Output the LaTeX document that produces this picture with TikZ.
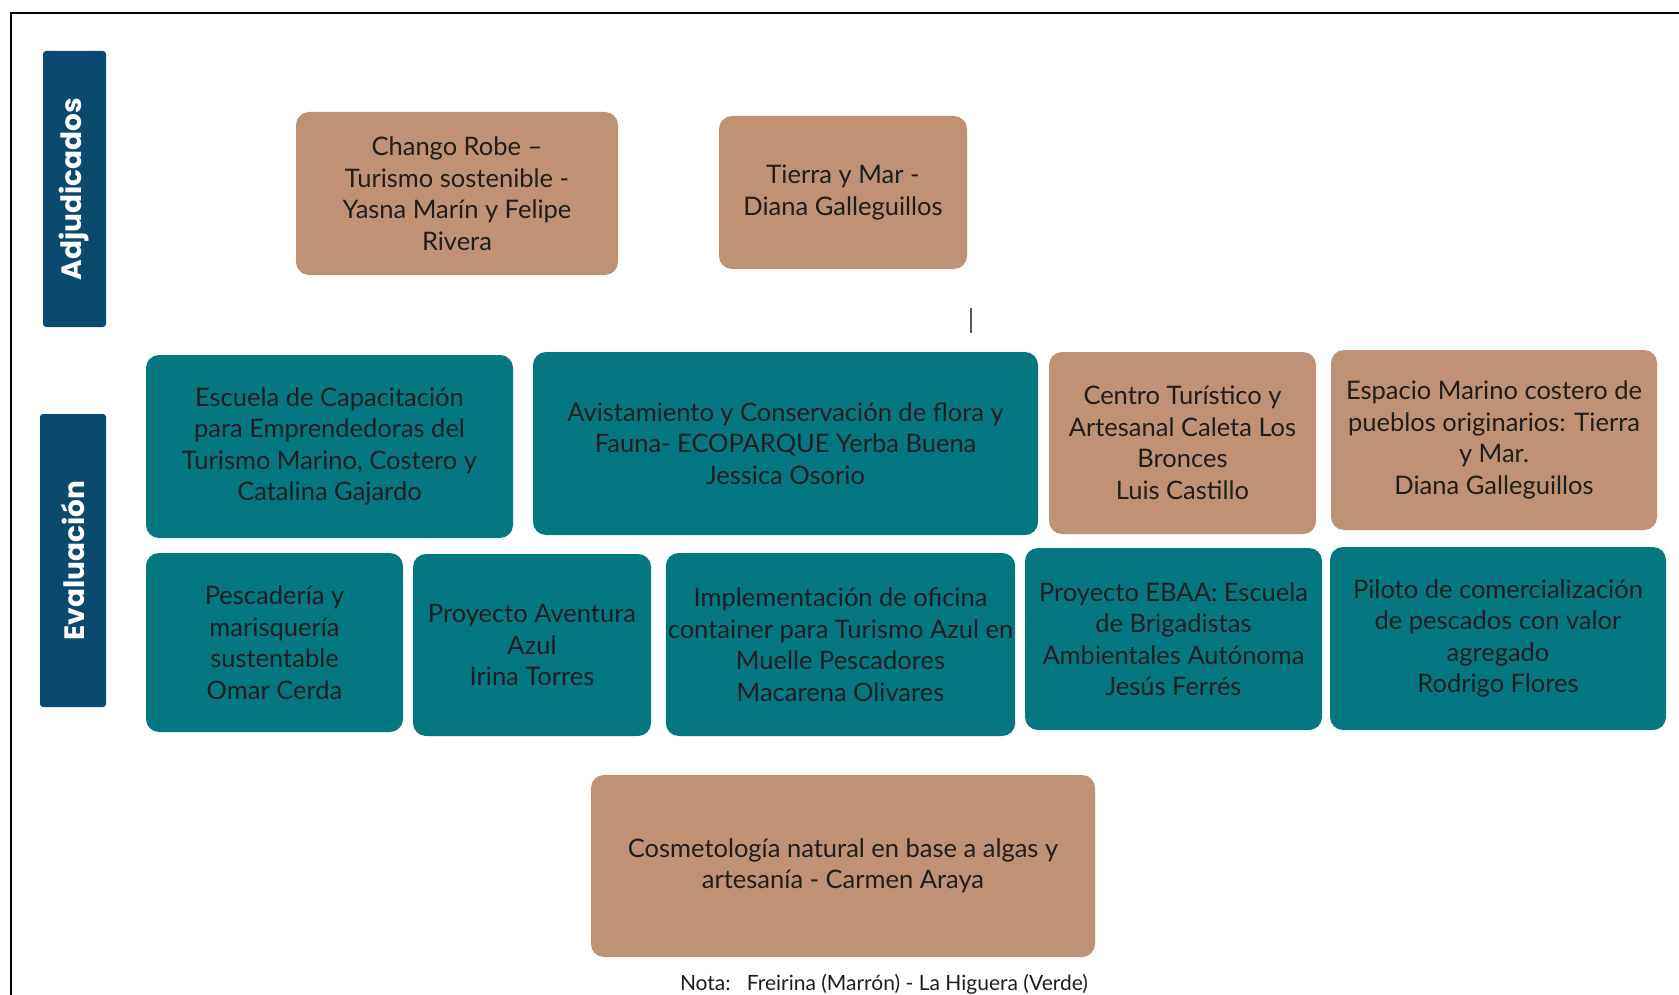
\documentclass[tikz,border=0pt]{standalone}
\usepackage{fontspec}
\setmainfont{Lato}
\newfontfamily\labelfont{Poppins}
\definecolor{brownbox}{HTML}{C09275}
\definecolor{tealbox}{HTML}{047780}
\definecolor{navybox}{HTML}{0A4A6E}
\definecolor{textdark}{HTML}{1E1E1E}
\begin{document}
\begin{tikzpicture}[x=1pt,y=-1pt,
  box/.style={rectangle,rounded corners=13pt,inner sep=2pt,align=center,
    text=textdark,font=\fontsize{25.5}{31.5}\selectfont},
  brownnode/.style={box,fill=brownbox},
  tealnode/.style={box,fill=tealbox},
  stagebox/.style={rectangle,rounded corners=3pt,fill=navybox,text=white,
    font=\labelfont\fontsize{28}{30}\selectfont\bfseries,rotate=90},
  frameline/.style={line width=2pt,black}]
\useasboundingbox (0,0) rectangle (1679,995);
\fill[white] (0,0) rectangle (1679,995);
\draw[frameline] (11,995) -- (11,13) -- (1679,13);

% stage labels
\node[stagebox,minimum width=276pt,minimum height=63pt] (adj) at (74.5,189) {Adjudicados};
\node[stagebox,minimum width=293pt,minimum height=66pt] (eva) at (73,560.5) {Evaluación};

% adjudicados
\node[brownnode,minimum width=322pt,minimum height=163pt] (chango) at (457,193.5)
  {Chango Robe –\\Turismo sostenible -\\Yasna Marín y Felipe\\Rivera};
\node[brownnode,minimum width=248pt,minimum height=153pt] (tierra) at (843,192.5)
  {Tierra y Mar -\\Diana Galleguillos};

% small mark
\coordinate (m1) at (971,308);
\coordinate (m2) at (971,333);
\draw[gray!70!black,line width=1.3pt] (m1) -- (m2);

% evaluacion row 1
\node[tealnode,minimum width=367pt,minimum height=183pt] (escuela) at (329.5,446.5)
  {Escuela de Capacitación\\para Emprendedoras del\\Turismo Marino, Costero y\\Catalina Gajardo};
\node[tealnode,minimum width=505pt,minimum height=183pt] (avist) at (785.5,443.5)
  {Avistamiento y Conservación de flora y\\Fauna- ECOPARQUE Yerba Buena\\Jessica Osorio};
\node[brownnode,minimum width=267pt,minimum height=182pt] (centro) at (1182.5,443)
  {Centro Turístico y\\Artesanal Caleta Los\\Bronces\\Luis Castillo};
\node[brownnode,minimum width=326pt,minimum height=180pt] (espacio) at (1494,440)
  {Espacio Marino costero de\\pueblos originarios: Tierra\\y Mar.\\Diana Galleguillos};

% evaluacion row 2
\node[tealnode,minimum width=257pt,minimum height=179pt] (pesca) at (274.5,642.5)
  {Pescadería y\\marisquería\\sustentable\\Omar Cerda};
\node[tealnode,minimum width=238pt,minimum height=182pt] (aventura) at (532,645)
  {Proyecto Aventura\\Azul\\Irina Torres};
\node[tealnode,minimum width=347pt,minimum height=183pt] (impl) at (840.5,644.5)
  {Implementación de oficina\\container para Turismo Azul en\\Muelle Pescadores\\Macarena Olivares};
\node[tealnode,minimum width=297pt,minimum height=182pt] (ebaa) at (1173.5,639)
  {Proyecto EBAA: Escuela\\de Brigadistas\\Ambientales Autónoma\\Jesús Ferrés};
\node[tealnode,minimum width=336pt,minimum height=183pt] (piloto) at (1498,638.5)
  {Piloto de comercialización\\de pescados con valor\\agregado\\Rodrigo Flores};

% bottom
\node[brownnode,minimum width=504pt,minimum height=182pt] (cosme) at (843,866)
  {Cosmetología natural  en base a algas y\\artesanía - Carmen Araya};

\node[text=textdark,font=\fontsize{21}{24}\selectfont,anchor=base] (nota) at (884,990)
  {Nota:\ \ \ Freirina (Marrón) - La Higuera (Verde)};
\end{tikzpicture}
\end{document}
